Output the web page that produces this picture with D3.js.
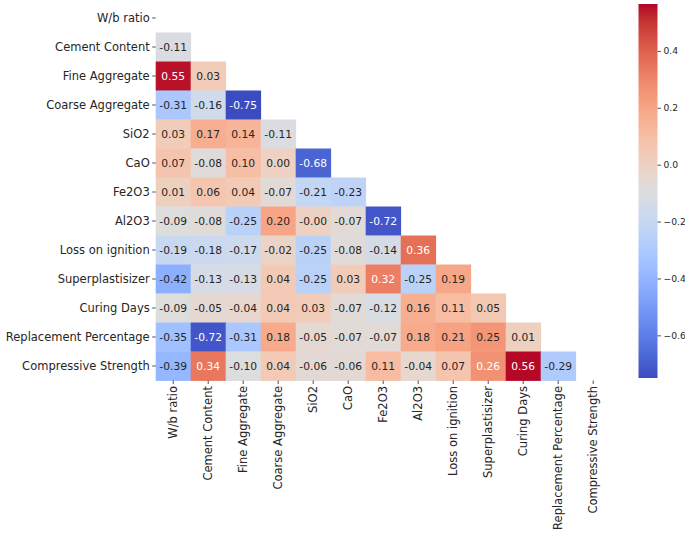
<!DOCTYPE html>
<html><head><meta charset="utf-8">
<script src="https://cdn.jsdelivr.net/npm/d3@7"></script>
<style>body{margin:0;background:#fff}svg{display:block}text{font-family:"DejaVu Sans",sans-serif}</style>
</head><body><svg id="c" width="685" height="536"></svg>
<script>
const labels = ["W/b ratio","Cement Content","Fine Aggregate","Coarse Aggregate","SiO2","CaO","Fe2O3","Al2O3","Loss on ignition","Superplastisizer","Curing Days","Replacement Percentage","Compressive Strength"];
// lower triangle rows (row i has i values, for columns 0..i-1)
const corrRows = [
  [],
  [-0.11],
  [0.55, 0.03],
  [-0.31, -0.16, -0.75],
  [0.03, 0.17, 0.14, -0.11],
  [0.07, -0.08, 0.10, 0.00, -0.68],
  [0.01, 0.06, 0.04, -0.07, -0.21, -0.23],
  [-0.09, -0.08, -0.25, 0.20, -0.001, -0.07, -0.72],
  [-0.19, -0.18, -0.17, -0.02, -0.25, -0.08, -0.14, 0.36],
  [-0.42, -0.13, -0.13, 0.04, -0.25, 0.03, 0.32, -0.25, 0.19],
  [-0.09, -0.05, -0.04, 0.04, 0.03, -0.07, -0.12, 0.16, 0.11, 0.05],
  [-0.35, -0.72, -0.31, 0.18, -0.05, -0.07, -0.07, 0.18, 0.21, 0.25, 0.01],
  [-0.39, 0.34, -0.10, 0.04, -0.06, -0.06, 0.11, -0.04, 0.07, 0.26, 0.56, -0.29]
];
const cbarTicks = [-0.6, -0.4, -0.2, 0.0, 0.2, 0.4];
// matplotlib coolwarm anchors
const coolwarmStops = [[59,76,192],[68,90,204],[77,104,215],[87,117,225],[98,130,234],[108,142,241],[119,154,247],[130,165,251],[141,176,254],[152,185,255],[163,194,255],[174,201,253],[184,208,249],[194,213,244],[204,217,238],[213,219,230],[221,221,221],[229,216,209],[236,211,197],[241,204,185],[245,196,173],[247,187,160],[247,177,148],[247,166,135],[244,154,123],[241,141,111],[236,127,99],[229,112,88],[222,96,77],[213,80,66],[203,62,56],[192,40,47],[180,4,38]];

const cells = [];
corrRows.forEach((row,i)=>row.forEach((v,j)=>cells.push({r:labels[i],c:labels[j],v})));
const allVals = cells.map(d=>d.v);
const vmin = d3.min(allVals), vmax = 0.565;
const coolwarm = d3.piecewise(d3.interpolateRgb, coolwarmStops.map(s=>d3.rgb(s[0],s[1],s[2])));
const norm = d3.scaleLinear().domain([vmin,vmax]).range([0,1]).clamp(true);
const color = v => coolwarm(norm(v));

const svg = d3.select("#c");
const x = d3.scaleBand().domain(labels).range([155.7, 610.7]);
const y = d3.scaleBand().domain(labels).range([3.5, 380.5]);

function lum(c){const r=d3.rgb(c);const f=u=>{u/=255;return u<=0.03928?u/12.92:Math.pow((u+0.055)/1.055,2.4)};return 0.2126*f(r.r)+0.7152*f(r.g)+0.0722*f(r.b);}
const fmt = v => (v<0?"-":"")+Math.abs(v).toFixed(2);

const g = svg.append("g");
g.selectAll("rect").data(cells).join("rect")
  .attr("x",d=>x(d.c)).attr("y",d=>y(d.r))
  .attr("width",x.bandwidth()+0.4).attr("height",y.bandwidth()+0.4)
  .attr("fill",d=>color(d.v));
g.selectAll("text").data(cells).join("text")
  .attr("x",d=>x(d.c)+x.bandwidth()/2).attr("y",d=>y(d.r)+y.bandwidth()/2)
  .attr("text-anchor","middle").attr("dominant-baseline","central")
  .attr("font-size",10.7)
  .attr("fill",d=>lum(color(d.v))>0.408?"#262626":"#ffffff")
  .text(d=>fmt(d.v));

// axes
const yAxis = svg.append("g").attr("transform","translate(155.7,0)")
  .call(d3.axisLeft(y).tickSize(3.5).tickPadding(2.5));
const xAxis = svg.append("g").attr("transform","translate(0,380.5)")
  .call(d3.axisBottom(x).tickSize(3.5).tickPadding(2.5));
[yAxis,xAxis].forEach(a=>{a.select(".domain").remove();a.selectAll(".tick line").attr("stroke","#262626").attr("stroke-width",0.8);a.selectAll("text").attr("font-size",11.5).attr("fill","#262626").attr("font-family","DejaVu Sans");});
xAxis.selectAll(".tick text").attr("transform","rotate(-90)").attr("text-anchor","end")
  .attr("x",-5.5).attr("y",0).attr("dy","0.35em");

// colorbar
const cbX = 638.5, cbW = 19, cbTop = 4, cbBot = 378;
const cy = d3.scaleLinear().domain([vmin,vmax]).range([cbBot,cbTop]);
const defs = svg.append("defs");
const grad = defs.append("linearGradient").attr("id","cw").attr("x1",0).attr("y1",1).attr("x2",0).attr("y2",0);
d3.range(0,1.0001,0.02).forEach(t=>grad.append("stop").attr("offset",t).attr("stop-color",coolwarm(t)));
svg.append("rect").attr("x",cbX).attr("y",cbTop).attr("width",cbW).attr("height",cbBot-cbTop).attr("fill","url(#cw)");
const cAxis = svg.append("g").attr("transform",`translate(${cbX+cbW},0)`)
  .call(d3.axisRight(cy).tickValues(cbarTicks).tickSize(3.5).tickPadding(2.5).tickFormat(d=>d3.format(".1f")(d)));
cAxis.select(".domain").remove();
cAxis.selectAll(".tick line").attr("stroke","#262626").attr("stroke-width",0.8);
cAxis.selectAll("text").attr("font-size",9.2).attr("fill","#262626").attr("font-family","DejaVu Sans");
</script></body></html>
